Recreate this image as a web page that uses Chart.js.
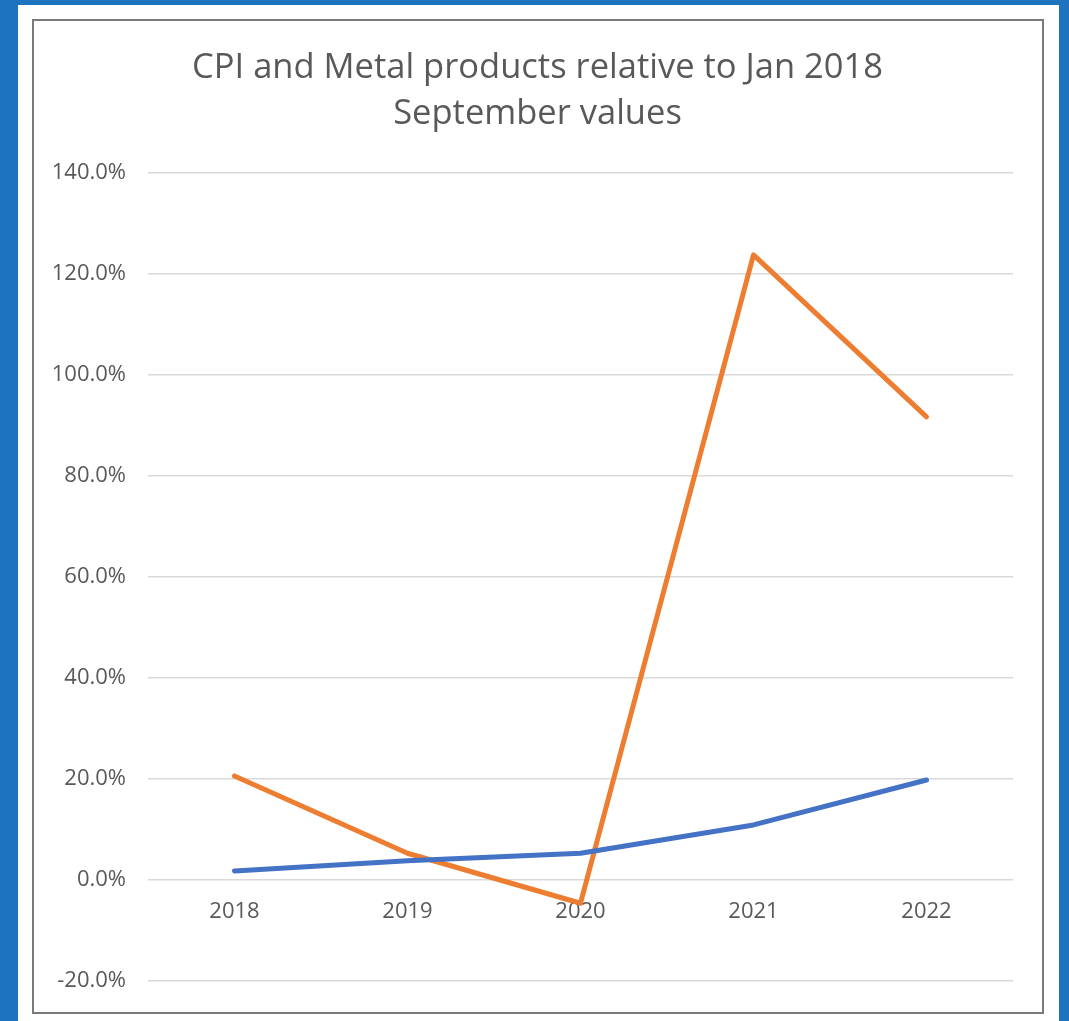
<!DOCTYPE html>
<html>
<head>
<meta charset="utf-8">
<script src="https://cdn.jsdelivr.net/npm/chart.js@4.4.0/dist/chart.umd.min.js"></script>
<style>
    html, body { margin: 0; padding: 0; }
    body { width: 1069px; height: 1021px; background: #1e73be; position: relative; overflow: hidden; }
    #panel { position: absolute; left: 18px; top: 5px; width: 1041px; height: 1016px; background: #fff; }
    #frame { position: absolute; left: 32px; top: 19px; width: 1008px; height: 991px; border: 2px solid #7a7a7a; }
    #wrap { position: absolute; left: 0; top: 0; width: 1069px; height: 1021px; }
</style>
</head>
<body>
<div id="panel"></div>
<div id="frame"></div>
<div id="wrap"><canvas id="grafico"></canvas></div>
<script>
const anios = ['2018', '2019', '2020', '2021', '2022'];
const cpi = [1.8, 3.8, 5.3, 10.9, 19.8];
const metales = [20.6, 5.3, -4.6, 123.8, 91.7];
const tituloLineas = ['CPI and Metal products relative to Jan 2018', 'September values'];

const gris = '#595959';
const fuente = "'Open Sans', sans-serif";

// titulo centrado sobre el marco (no sobre el area del canvas)
const tituloMarco = {
    id: 'tituloMarco',
    afterDraw(chart) {
        const c = chart.ctx;
        c.save();
        c.fillStyle = gris;
        c.font = "34.5px 'Open Sans', sans-serif";
        c.textAlign = 'center';
        c.textBaseline = 'middle';
        tituloLineas.forEach((linea, i) => c.fillText(linea, 537.5, 68 + i * 46));
        c.restore();
    }
};

const ctx = document.getElementById('grafico').getContext('2d');
const grafico = new Chart(ctx, {
    type: 'line',
    data: {
        labels: anios,
        datasets: [
            {
                label: 'CPI',
                data: cpi,
                borderColor: '#4472c4',
                borderWidth: 5,
                pointRadius: 0,
                borderCapStyle: 'round',
                borderJoinStyle: 'round',
                fill: false
            },
            {
                label: 'Metal products',
                data: metales,
                borderColor: '#ed7d31',
                borderWidth: 5,
                pointRadius: 0,
                borderCapStyle: 'round',
                borderJoinStyle: 'round',
                fill: false
            }
        ]
    },
    options: {
        responsive: true,
        maintainAspectRatio: false,
        animation: false,
        layout: { padding: { left: 0, right: 56, top: 173, bottom: 40 } },
        plugins: {
            legend: { display: false },
            tooltip: { enabled: false },
            title: { display: false }
        },
        scales: {
            x: {
                position: { y: 0 },
                offset: true,
                grid: { display: false, drawTicks: false, offset: true },
                border: { display: false },
                ticks: { color: gris, font: { family: fuente, size: 22 }, padding: 19 }
            },
            y: {
                min: -20,
                max: 140,
                afterFit: (escala) => { escala.width = 148; },
                grid: { color: '#d9d9d9', lineWidth: 1.5, drawTicks: false },
                border: { display: false },
                ticks: {
                    stepSize: 20,
                    color: gris,
                    padding: 22,
                    font: { family: fuente, size: 22 },
                    callback: (v) => v.toFixed(1) + '%'
                }
            }
        }
    },
    plugins: [tituloMarco]
});
</script>
</body>
</html>
